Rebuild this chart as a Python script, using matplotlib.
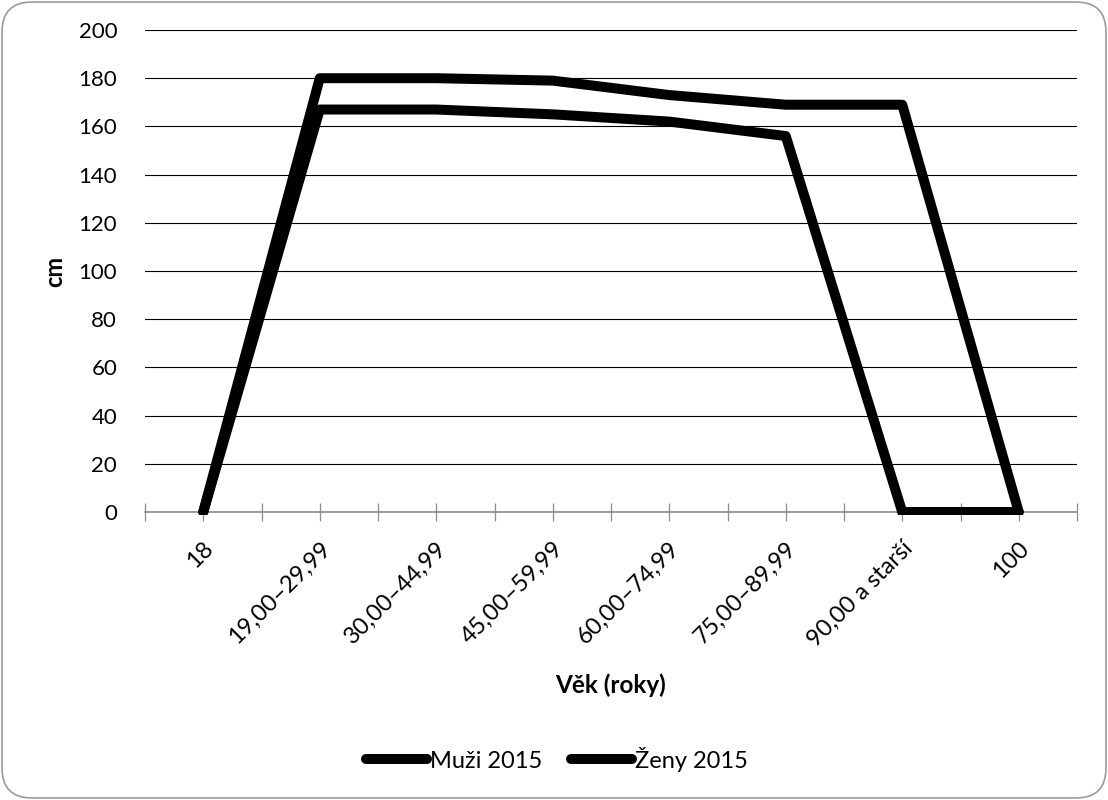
import matplotlib
matplotlib.use("Agg")
import matplotlib.pyplot as plt
from matplotlib.patches import FancyBboxPatch, Rectangle
from matplotlib.transforms import ScaledTranslation

# font (Calibri-like look)
plt.rcParams['font.family'] = ['Lato', 'DejaVu Sans']

# data
categories = ['18', '19,00–29,99', '30,00–44,99', '45,00–59,99',
              '60,00–74,99', '75,00–89,99', '90,00 a starší', '100']
muzi_2015 = [0, 180, 180, 179, 173, 169, 169, 0]
zeny_2015 = [0, 167, 167, 165, 162, 156, 0, 0]
y_ticks = [0, 20, 40, 60, 80, 100, 120, 140, 160, 180, 200]

W, H = 1108, 800
fig = plt.figure(figsize=(W / 100, H / 100), dpi=100)
ax = fig.add_axes([145 / W, 1 - 512 / H, 932 / W, 482 / H])

x = list(range(len(categories)))
gray = '#8c8c8c'

# clip slightly below the axis line, like Excel does
clip = Rectangle((0, -0.007), 1, 1.007, transform=ax.transAxes, visible=False)
ax.add_patch(clip)

for vals, name in [(muzi_2015, 'Muži 2015'), (zeny_2015, 'Ženy 2015')]:
    ln, = ax.plot(x, vals, color='black', lw=7.2, label=name,
                  solid_joinstyle='round', solid_capstyle='round', zorder=3)
    ln.set_clip_path(clip)

ax.set_xlim(-0.5, len(categories) - 0.5)
ax.set_ylim(0, 200)
ax.set_yticks(y_ticks)
ax.yaxis.grid(True, color='black', lw=0.8)
ax.set_axisbelow(True)

for s in ['top', 'right', 'left']:
    ax.spines[s].set_visible(False)
ax.spines['bottom'].set_color(gray)
ax.spines['bottom'].set_linewidth(1.2)
ax.spines['bottom'].set_zorder(2.5)

ax.tick_params(axis='y', length=0, pad=20, labelsize=16)
ax.set_xticks(x)
ax.set_xticks([i - 0.5 for i in range(len(categories) + 1)], minor=True)
ax.tick_params(axis='x', which='both', direction='inout', length=13.5,
               width=0.9, color=gray, pad=0, labelsize=17)
ax.set_xticklabels(categories, rotation=45, ha='right', va='center',
                   rotation_mode='anchor')
off = ScaledTranslation(0.07, -0.24, fig.dpi_scale_trans)
for lab in ax.get_xticklabels():
    lab.set_transform(lab.get_transform() + off)

ax.set_xlabel('Věk (roky)', fontsize=17.5, fontweight='bold')
ax.xaxis.set_label_coords(0.5, -0.335)
ax.set_ylabel('cm', fontsize=17, fontweight='bold')
ax.yaxis.set_label_coords(-0.084, 0.5)

fig.legend(loc='center', bbox_to_anchor=(557 / W, 1 - 759 / H), ncol=2,
           frameon=False, fontsize=17, handlelength=2.6, handletextpad=0.12,
           columnspacing=1.2)

# rounded chart border
border = FancyBboxPatch((0.02, 0.02), W / 100 - 0.04, H / 100 - 0.04,
                        boxstyle='round,pad=0,rounding_size=0.3',
                        transform=fig.dpi_scale_trans, fill=False,
                        edgecolor='#9a9a9a', lw=1.2)
fig.patches.append(border)

fig.savefig('out.png', dpi=100)
